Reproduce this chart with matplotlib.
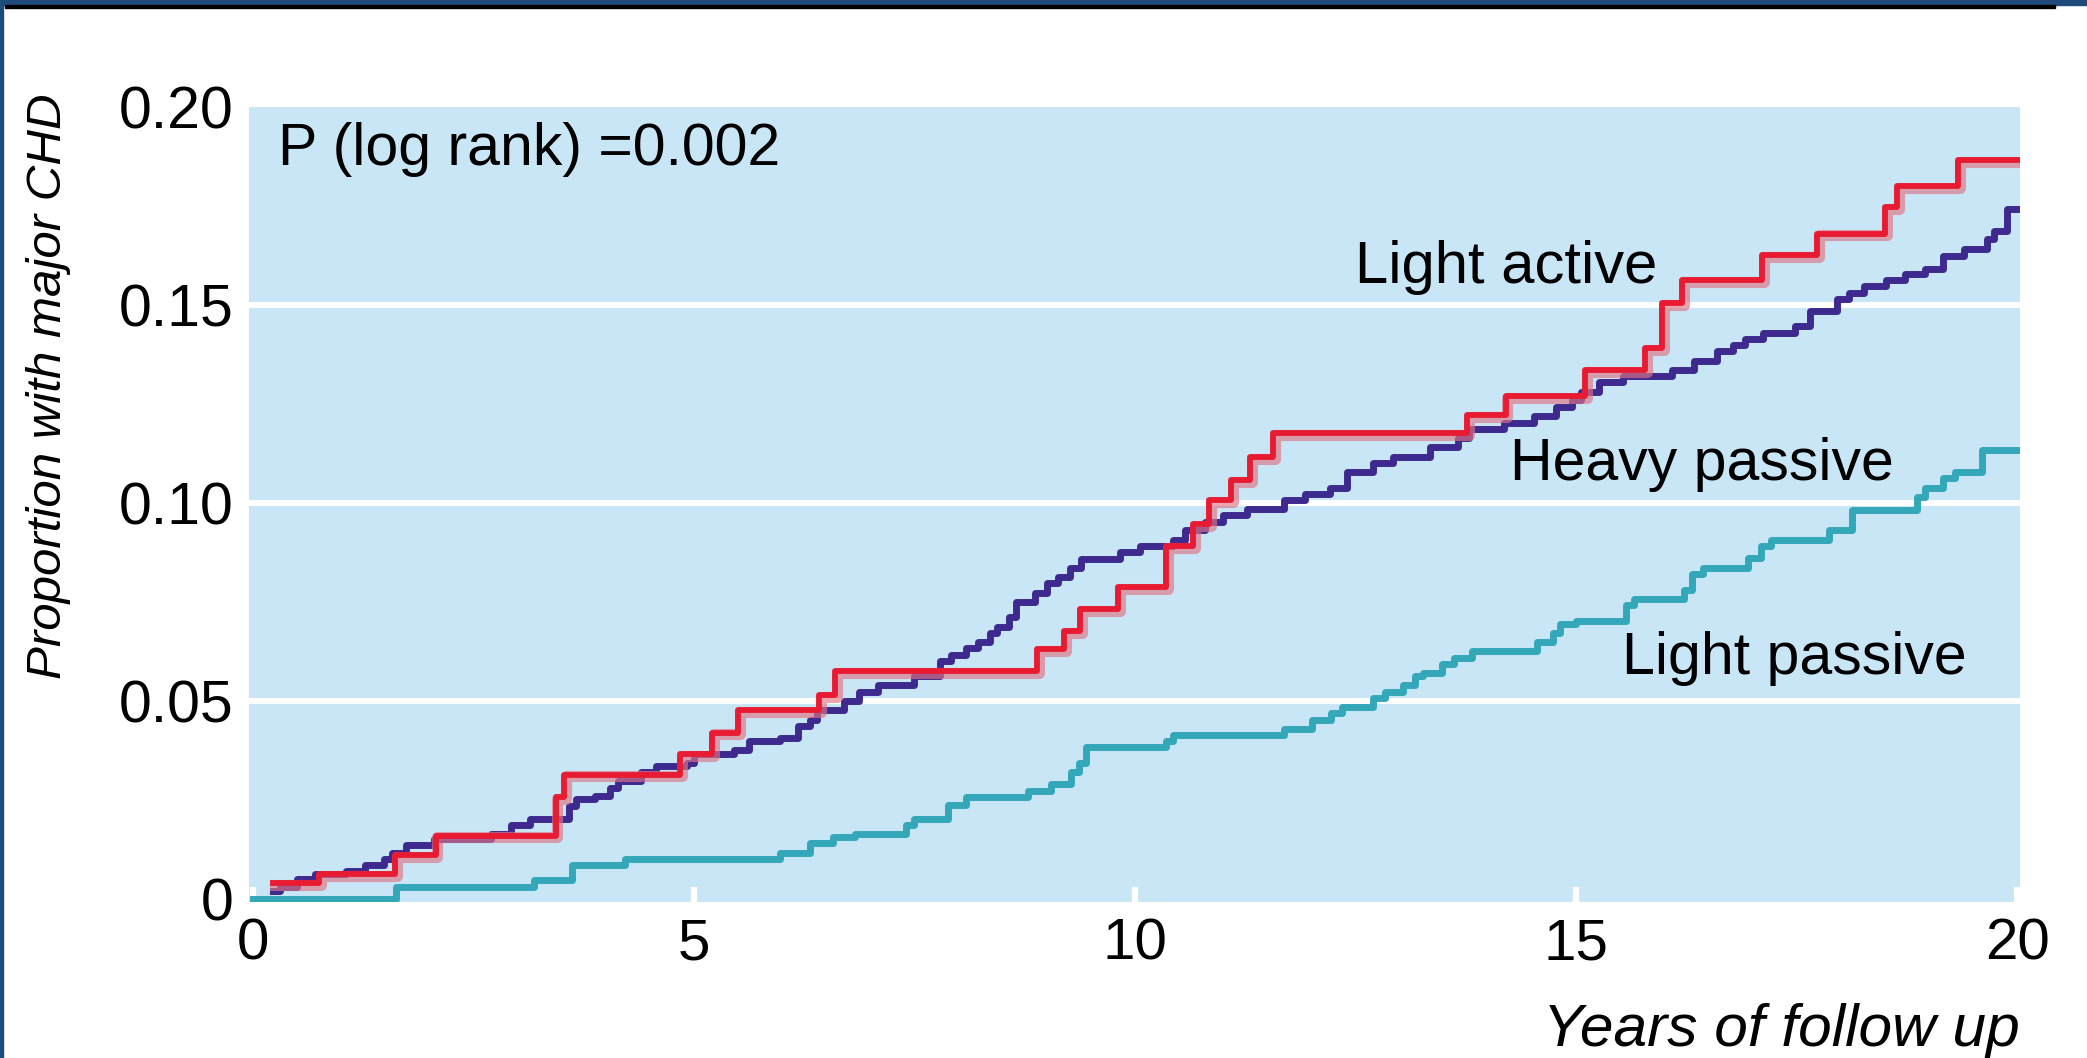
import matplotlib
matplotlib.use("Agg")
import matplotlib.pyplot as plt
import matplotlib.patheffects as pe
from matplotlib.patches import Rectangle

plt.rcParams['font.family'] = ['Liberation Sans', 'DejaVu Sans']

# years of follow up / cumulative proportion with major CHD (step curves)
la_t = [0.23, 0.75, 1.61, 2.07, 3.43, 3.53, 4.84, 5.2, 5.5, 6.42, 6.6, 8.89, 9.19, 9.38, 9.81,
        10.35, 10.66, 10.84, 11.09, 11.3, 11.56, 13.76, 14.2, 15.1, 15.78, 15.97, 16.2, 17.11,
        17.73, 18.5, 18.64, 19.33, 20.0]
la_v = [0.004, 0.0063, 0.011, 0.016, 0.0258, 0.0314, 0.0366, 0.042, 0.0477, 0.0515, 0.0576,
        0.0631, 0.0677, 0.0732, 0.0788, 0.089, 0.0947, 0.1008, 0.1058, 0.1116, 0.1177, 0.1222,
        0.127, 0.1336, 0.139, 0.1505, 0.1563, 0.1626, 0.168, 0.1748, 0.18, 0.1866, 0.1866]

hp_t = [0.23, 0.31, 0.50, 0.70, 1.05, 1.27, 1.49, 1.58, 1.74, 2.05, 2.70, 2.93, 3.14, 3.58, 3.66,
        3.88, 4.05, 4.14, 4.40, 4.57, 4.92, 5.0, 5.45, 5.62, 5.97, 6.18, 6.31, 6.39, 6.70, 6.87,
        7.09, 7.49, 7.79, 7.91, 8.08, 8.22, 8.35, 8.43, 8.57, 8.65, 8.87, 9.0, 9.13, 9.26, 9.39,
        9.83, 10.05, 10.43, 10.57, 10.79, 11.0, 11.27, 11.69, 11.92, 12.21, 12.40, 12.70, 12.92,
        13.34, 13.66, 13.78, 14.18, 14.52, 14.77, 14.95, 15.05, 15.26, 15.53, 16.08, 16.34, 16.6,
        16.78, 16.91, 17.12, 17.48, 17.65, 17.96, 18.09, 18.26, 18.51, 18.73, 18.95, 19.16, 19.39,
        19.66, 19.73, 19.88, 20.0]
hp_v = [0.002, 0.003, 0.0051, 0.0062, 0.0070, 0.0086, 0.0101, 0.0116, 0.0135, 0.0151, 0.0164,
        0.0187, 0.0203, 0.0235, 0.0253, 0.026, 0.028, 0.0297, 0.032, 0.0336, 0.0343, 0.0366,
        0.0376, 0.0398, 0.0406, 0.0436, 0.0451, 0.0476, 0.0499, 0.0522, 0.054, 0.0564, 0.06,
        0.0615, 0.0633, 0.0649, 0.0672, 0.0687, 0.0712, 0.075, 0.0773, 0.0798, 0.0812, 0.0836,
        0.0859, 0.0876, 0.0891, 0.0907, 0.0931, 0.0952, 0.0969, 0.0985, 0.1007, 0.1023, 0.1038,
        0.1078, 0.11, 0.1116, 0.1141, 0.1164, 0.1187, 0.1202, 0.1219, 0.1242, 0.126, 0.128,
        0.1305, 0.1321, 0.1335, 0.1359, 0.1383, 0.1398, 0.1413, 0.143, 0.1446, 0.1484, 0.1515,
        0.1529, 0.1547, 0.1562, 0.1577, 0.1592, 0.1624, 0.1642, 0.1667, 0.1688, 0.1743, 0.1743]

lp_t = [0.0, 1.62, 3.19, 3.62, 4.22, 5.97, 6.31, 6.57, 6.83, 7.40, 7.49, 7.88, 8.08, 8.79, 9.05,
        9.27, 9.36, 9.44, 10.35, 10.43, 11.69, 12.0, 12.22, 12.35, 12.70, 12.83, 13.04, 13.17,
        13.26, 13.48, 13.61, 13.82, 14.56, 14.74, 14.82, 15.0, 15.56, 15.65, 16.22, 16.31, 16.44,
        16.95, 17.09, 17.21, 17.86, 18.12, 18.86, 18.95, 19.16, 19.29, 19.6, 20.0]
lp_v = [0.0, 0.003, 0.0047, 0.0085, 0.0101, 0.0116, 0.0141, 0.0157, 0.0164, 0.0186, 0.0202,
        0.0236, 0.0258, 0.0273, 0.029, 0.0321, 0.0343, 0.0383, 0.0398, 0.0413, 0.0429, 0.0451,
        0.047, 0.0485, 0.0508, 0.0522, 0.054, 0.0562, 0.0571, 0.0593, 0.0608, 0.0625, 0.0648,
        0.0672, 0.0693, 0.0701, 0.0742, 0.0758, 0.078, 0.0821, 0.0836, 0.086, 0.0891, 0.0907,
        0.0931, 0.0983, 0.1015, 0.1038, 0.1063, 0.1078, 0.1134, 0.1134]

xticks = [0, 5, 10, 15, 20]
yticks = [0, 0.05, 0.10, 0.15, 0.20]
ytick_labels = ['0', '0.05', '0.10', '0.15', '0.20']

fig = plt.figure(figsize=(20.87, 10.58), dpi=100)
ax = fig.add_axes([0.1193, 0.1474, 0.8486, 0.7515])
ax.set_facecolor('#c9e6f7')

for g in [0.05, 0.10, 0.15]:
    ax.axhline(g, color='white', lw=4.3, zorder=1)

ax.plot(lp_t, lp_v, drawstyle='steps-post', color='#34a8b9', lw=5, zorder=3)
ax.plot(hp_t, hp_v, drawstyle='steps-post', color='#3e2a8f', lw=5, zorder=4)
ax.plot(la_t, la_v, drawstyle='steps-post', color='#e81b32', lw=4.2, zorder=5,
        path_effects=[pe.Stroke(linewidth=8.0, foreground='#e07585', alpha=0.65, offset=(1.3, -1.3)),
                      pe.Normal()])

ax.set_xlim(-0.045, 20.03)
ax.set_ylim(-0.0008, 0.2)
for s in ax.spines.values():
    s.set_visible(False)

ax.set_xticks(xticks)
ax.set_xticklabels([str(x) for x in xticks])
ax.set_yticks(yticks)
ax.set_yticklabels(ytick_labels)
ax.tick_params(axis='x', direction='in', length=11, width=4.5, color='white', pad=11,
               labelsize=42)
ax.tick_params(axis='y', length=0, pad=11, labelsize=42.5)

ax.text(0.28, 0.1854, 'P (log rank) =0.002', fontsize=42.5, va='baseline', zorder=6)
ax.text(12.49, 0.1556, 'Light active', fontsize=43, va='baseline', zorder=6)
ax.text(14.25, 0.1058, 'Heavy passive', fontsize=42.5, va='baseline', zorder=6)
ax.text(15.52, 0.0567, 'Light passive', fontsize=42.5, va='baseline', zorder=6)

fig.text(49 / 2087, 1 - 386 / 1058, 'Proportion with major CHD', rotation=90, style='italic',
         fontsize=35.5, ha='center', va='center')
fig.text(2020 / 2087, 1 - 1031 / 1058, 'Years of follow up', style='italic',
         fontsize=43.5, ha='right', va='center')

# frame bits at the top / left edge
W, H = 2087, 1058
fig.patches.append(Rectangle((0, 1 - 5 / H), 1, 5 / H, transform=fig.transFigure,
                             color='#1f4a7c', zorder=10))
fig.patches.append(Rectangle((5 / W, 1 - 8 / H), 2050 / W, 3.5 / H, transform=fig.transFigure,
                             color='black', zorder=10))
fig.patches.append(Rectangle((0, 0), 2.5 / W, 1, transform=fig.transFigure,
                             color='#1f4a7c', zorder=10))

fig.savefig('out.png', dpi=100)
